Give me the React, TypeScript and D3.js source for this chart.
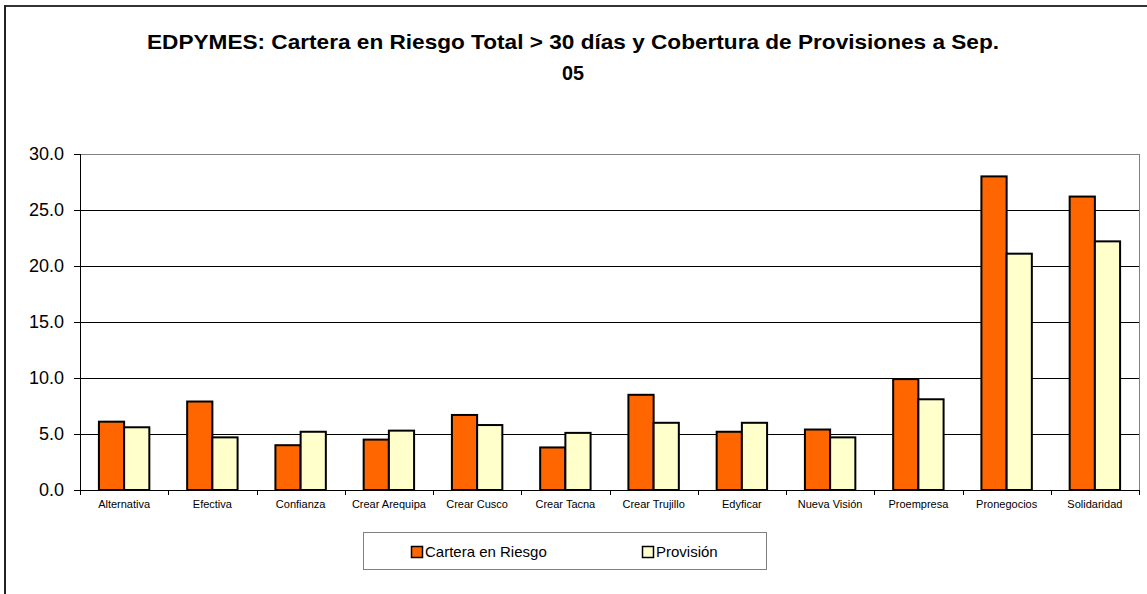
import React from "react";
import * as d3 from "d3";

const categories = [
  "Alternativa", "Efectiva", "Confianza", "Crear Arequipa", "Crear Cusco", "Crear Tacna",
  "Crear Trujillo", "Edyficar", "Nueva Visión", "Proempresa", "Pronegocios", "Solidaridad",
];
const carteraEnRiesgo = [6.1, 7.9, 4.0, 4.5, 6.7, 3.8, 8.5, 5.2, 5.4, 9.9, 28.0, 26.2];
const provision = [5.6, 4.7, 5.2, 5.3, 5.8, 5.1, 6.0, 6.0, 4.7, 8.1, 21.1, 22.2];
const seriesNames = ["Cartera en Riesgo", "Provisión"];
const seriesColors = ["#FF6600", "#FFFFCC"];
const yTicks = [0, 5, 10, 15, 20, 25, 30];
const titleLines = [
  "EDPYMES: Cartera en Riesgo Total > 30 días y Cobertura de Provisiones a Sep.",
  "05",
];

const FONT = "'Liberation Sans', Arial, Helvetica, sans-serif";

export default function App() {
  const W = 1147, H = 594;
  const left = 80, right = 1139, top = 154, bottom = 490;
  const y = d3.scaleLinear().domain([0, 30]).range([bottom, top]);
  const x0 = d3.scaleBand<string>().domain(categories).range([left, right]).padding(0);
  const bw = x0.bandwidth();
  const barW = bw / 3.5;
  const x1 = d3.scaleBand<string>().domain(seriesNames).range([barW * 0.75, barW * 0.75 + 2 * barW]).padding(0);
  const seriesData = [carteraEnRiesgo, provision];

  return (
    <svg width={W} height={H} style={{ position: "absolute", left: 0, top: 0, background: "#fff" }}>
      {/* outer frame */}
      <line x1={5} y1={6} x2={W} y2={6} stroke="#333" strokeWidth={2} />
      <line x1={5} y1={5} x2={5} y2={H} stroke="#222" strokeWidth={2} />

      {/* title */}
      <text x={573} y={49} textAnchor="middle" fontFamily={FONT} fontWeight="bold" fontSize={21}
        textLength={852} lengthAdjust="spacingAndGlyphs">{titleLines[0]}</text>
      <text x={573} y={80} textAnchor="middle" fontFamily={FONT} fontWeight="bold" fontSize={21}
        textLength={22} lengthAdjust="spacingAndGlyphs">{titleLines[1]}</text>

      {/* plot border */}
      <line x1={left} y1={top + 0.5} x2={right} y2={top + 0.5} stroke="#808080" strokeWidth={1} />
      <line x1={right + 0.5} y1={top} x2={right + 0.5} y2={bottom} stroke="#808080" strokeWidth={1} />

      {/* gridlines */}
      {yTicks.filter((t) => t > 0 && t < 30).map((t) => (
        <line key={t} x1={left} x2={right} y1={Math.round(y(t)) + 0.5} y2={Math.round(y(t)) + 0.5} stroke="#000" strokeWidth={1} />
      ))}

      {/* bars */}
      {categories.map((c, i) => (
        <g key={c} transform={`translate(${x0(c)},0)`}>
          {seriesNames.map((s, k) => (
            <rect key={s} x={x1(s)} y={y(seriesData[k][i])} width={x1.bandwidth()}
              height={bottom - y(seriesData[k][i])} fill={seriesColors[k]} stroke="#000" strokeWidth={2} />
          ))}
        </g>
      ))}

      {/* y axis */}
      <line x1={left + 0.5} y1={top} x2={left + 0.5} y2={bottom} stroke="#000" strokeWidth={1} />
      {yTicks.map((t) => (
        <g key={t}>
          <line x1={left - 6} x2={left} y1={Math.round(y(t)) + 0.5} y2={Math.round(y(t)) + 0.5} stroke="#000" />
          <text x={64} y={y(t) + 6} textAnchor="end" fontFamily={FONT} fontSize={18}>{t.toFixed(1)}</text>
        </g>
      ))}

      {/* x axis */}
      <line x1={left} y1={bottom + 0.5} x2={right} y2={bottom + 0.5} stroke="#000" strokeWidth={1} />
      {categories.map((c) => (
        <line key={"t" + c} x1={Math.round(x0(c)!) + 0.5} x2={Math.round(x0(c)!) + 0.5} y1={bottom} y2={bottom + 5} stroke="#000" />
      ))}
      <line x1={right + 0.5} x2={right + 0.5} y1={bottom} y2={bottom + 5} stroke="#000" />
      {categories.map((c) => (
        <text key={"l" + c} x={x0(c)! + bw / 2} y={508} textAnchor="middle" fontFamily={FONT} fontSize={11}>{c}</text>
      ))}

      {/* legend */}
      <rect x={363.5} y={532.5} width={403} height={37} fill="#fff" stroke="#808080" strokeWidth={1} />
      {seriesNames.map((s, k) => {
        const sx = k === 0 ? 411 : 642;
        return (
          <g key={s}>
            <rect x={sx + 0.5} y={546.5} width={11} height={11} fill={seriesColors[k]} stroke="#000" strokeWidth={1.5} />
            <text x={sx + 14} y={557} fontFamily={FONT} fontSize={15}>{s}</text>
          </g>
        );
      })}
    </svg>
  );
}
